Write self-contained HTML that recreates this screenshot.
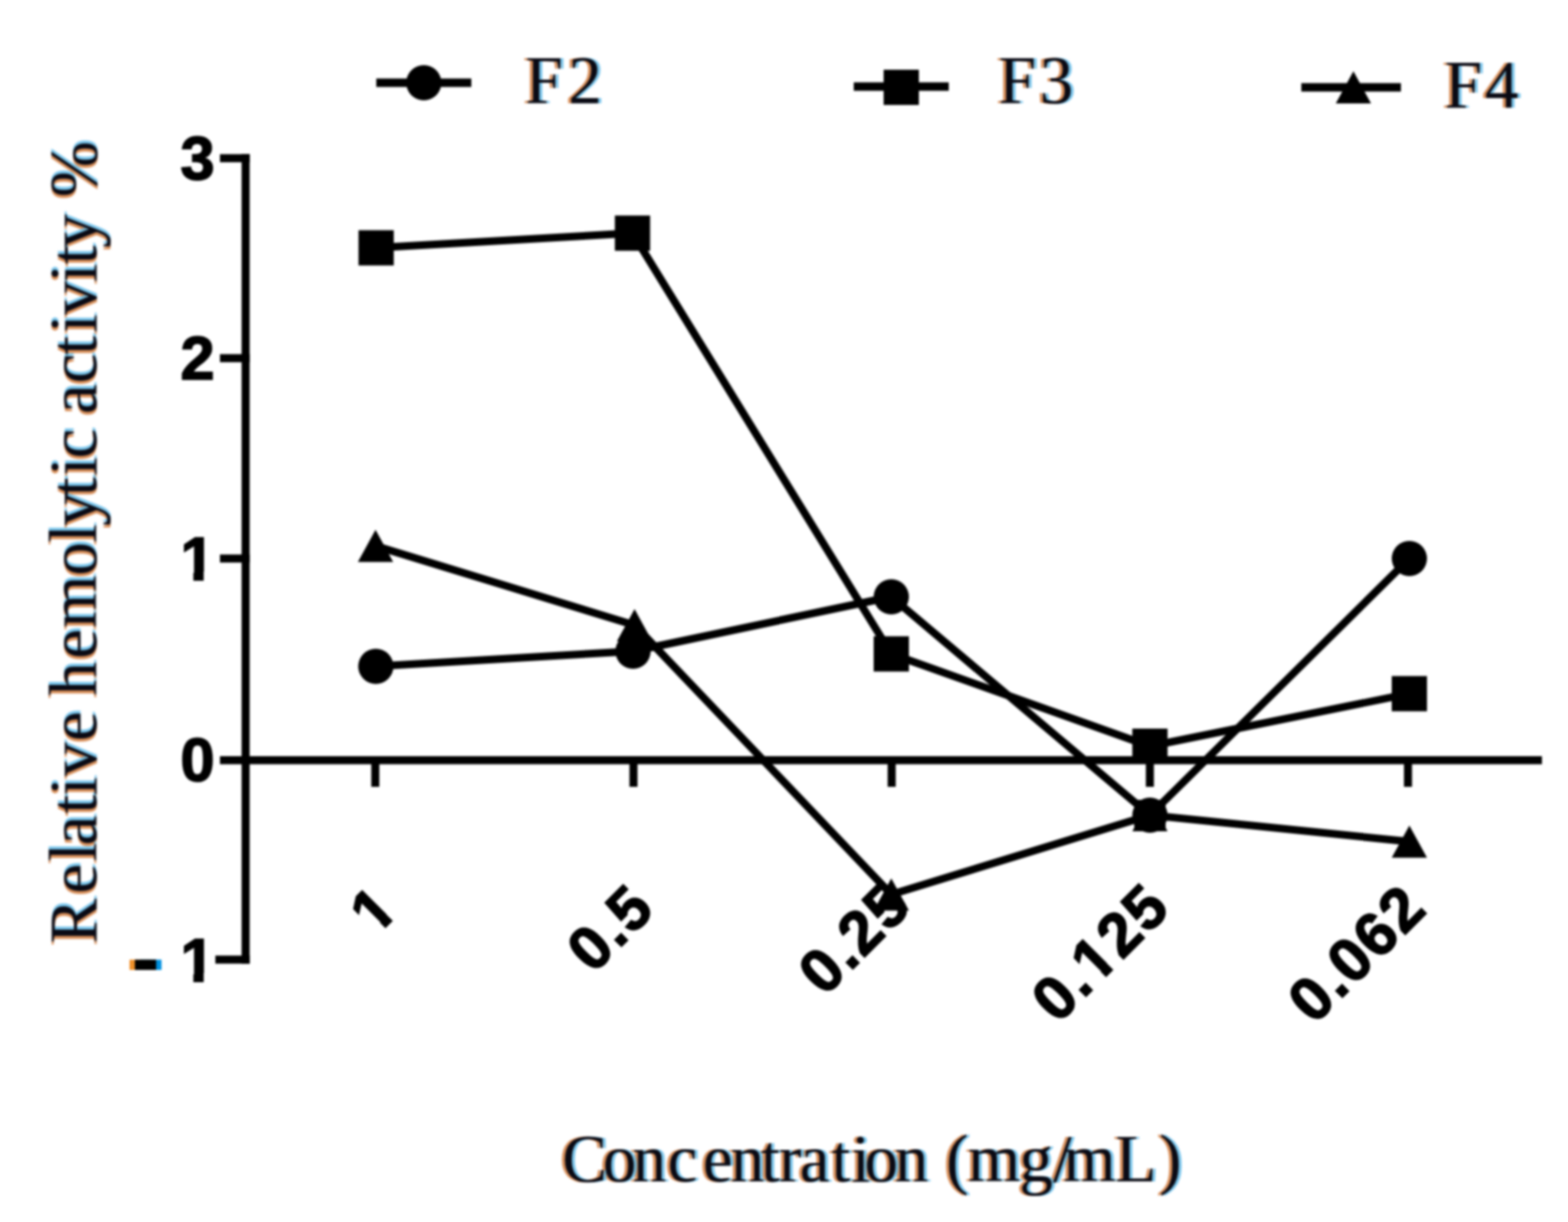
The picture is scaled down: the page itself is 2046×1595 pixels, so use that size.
<!DOCTYPE html>
<html>
<head>
<meta charset="utf-8">
<style>
html,body{margin:0;padding:0;background:#fff;}
body{width:2046px;height:1595px;overflow:hidden;position:relative;}
svg{position:absolute;left:0;top:0;filter:blur(1.8px);}
.tk{font-family:"Liberation Sans",Arial,sans-serif;font-weight:bold;font-size:78px;fill:#000;}
.tt{font-family:"Liberation Serif","Times New Roman",serif;font-size:88px;fill:#0a0a14;filter:url(#ct);}
</style>
</head>
<body>
<svg width="2046" height="1595" viewBox="0 0 2046 1595">
<defs>
<filter id="ct" x="-0.05" y="-0.1" width="1.1" height="1.2" color-interpolation-filters="sRGB">
  <feFlood flood-color="#d27c3c" flood-opacity="0.85" result="o"/>
  <feOffset in="SourceAlpha" dx="-4" dy="0" result="la"/>
  <feComposite in="o" in2="la" operator="in" result="lo"/>
  <feFlood flood-color="#4fb2e6" flood-opacity="0.75" result="b"/>
  <feOffset in="SourceAlpha" dx="4" dy="0" result="ra"/>
  <feComposite in="b" in2="ra" operator="in" result="rb"/>
  <feMerge><feMergeNode in="lo"/><feMergeNode in="rb"/><feMergeNode in="SourceGraphic"/></feMerge>
</filter>
<filter id="ct2" x="-0.5" y="-0.5" width="2" height="2" color-interpolation-filters="sRGB">
  <feFlood flood-color="#f0902a" result="o"/>
  <feOffset in="SourceAlpha" dx="-6.8" dy="0" result="la"/>
  <feComposite in="o" in2="la" operator="in" result="lo"/>
  <feFlood flood-color="#0090e0" result="b"/>
  <feOffset in="SourceAlpha" dx="6.8" dy="0" result="ra"/>
  <feComposite in="b" in2="ra" operator="in" result="rb"/>
  <feMerge><feMergeNode in="lo"/><feMergeNode in="rb"/><feMergeNode in="SourceGraphic"/></feMerge>
</filter>
</defs>
<!-- legend -->
<g stroke="#000" stroke-width="11" fill="#000">
  <line x1="491" y1="108" x2="615" y2="108"/>
  <line x1="1114" y1="113" x2="1238" y2="113"/>
  <line x1="1698" y1="114" x2="1828" y2="114"/>
</g>
<circle cx="553" cy="108" r="23" fill="#000"/>
<rect x="1153" y="91" width="46" height="46" fill="#000"/>
<polygon points="1766,93 1743,135 1789,135" fill="#000"/>
<text class="tt" x="685.5 741.5" y="134">F2</text>
<text class="tt" x="1303 1356.5" y="134">F3</text>
<text class="tt" x="1885 1937.5" y="140">F4</text>

<!-- axes -->
<g stroke="#000" stroke-width="10.5" fill="none" stroke-linecap="butt">
  <line x1="320.5" y1="201" x2="320.5" y2="1258"/>
  <line x1="287" y1="992.3" x2="2012" y2="992.3"/>
  <line x1="287" y1="206.5" x2="326" y2="206.5"/>
  <line x1="287" y1="467.5" x2="326" y2="467.5"/>
  <line x1="287" y1="729" x2="326" y2="729"/>
  <line x1="281" y1="1252.5" x2="326" y2="1252.5"/>
  <line x1="489.7" y1="992" x2="489.7" y2="1027"/>
  <line x1="826.6" y1="992" x2="826.6" y2="1027"/>
  <line x1="1163.5" y1="992" x2="1163.5" y2="1027"/>
  <line x1="1500.4" y1="992" x2="1500.4" y2="1027"/>
  <line x1="1837.2" y1="992" x2="1837.2" y2="1027"/>
</g>
<!-- y tick labels -->
<g class="tk" text-anchor="end" style="font-size:80px;stroke:#000;stroke-width:2px">
  <text x="280" y="234">3</text>
  <text x="280" y="495">2</text>
  <text x="280" y="757">1</text>
  <text x="280" y="1019">0</text>
  <text x="280" y="1281">1</text>
</g>
<rect x="238.5" y="746" width="13.8" height="13" fill="#fff"/>
<rect x="265.8" y="746" width="14.5" height="13" fill="#fff"/>
<rect x="238.5" y="1270" width="13.8" height="13" fill="#fff"/>
<rect x="265.8" y="1270" width="14.5" height="13" fill="#fff"/>
<text transform="translate(176,1310) scale(1,4)" style="font-family:'Liberation Sans',Arial,sans-serif;font-size:50px;fill:#000;filter:url(#ct2)">–</text>

<!-- x tick labels, rotated -45 -->
<g class="tk" text-anchor="middle" style="font-size:80px;letter-spacing:2.5px;stroke:#000;stroke-width:2px">
  <g transform="translate(487,1186) rotate(-45)"><text dy="28.6">1</text><rect x="-20.5" y="17.6" width="13.8" height="13" fill="#fff" stroke="none"/><rect x="6.8" y="17.6" width="14.5" height="13" fill="#fff" stroke="none"/></g>
  <g transform="translate(795.5,1210) rotate(-45)"><text dy="28.6">0.5</text></g>
  <g transform="translate(1114,1223) rotate(-45)"><text dy="28.6">0.25</text></g>
  <g transform="translate(1435,1242) rotate(-45)"><text dy="28.6">0.125</text><rect x="-31.6" y="17.6" width="13.8" height="13" fill="#fff" stroke="none"/><rect x="-4.3" y="17.6" width="14.5" height="13" fill="#fff" stroke="none"/></g>
  <g transform="translate(1769.5,1243.3) rotate(-45)"><text dy="28.6">0.062</text></g>
</g>

<!-- data lines -->
<g stroke="#000" stroke-width="10" fill="none" stroke-linejoin="round">
  <polyline points="490.4,869.7 826,850 1163,779 1500.5,1064 1839,729"/>
  <polyline points="490.8,323.5 825.3,304.3 1163,853.5 1500.5,974 1839,905.4"/>
  <polyline points="490,712.5 828,816 1163,1167.5 1500.5,1064 1839,1098.5"/>
</g>
<!-- markers F2 circles -->
<g fill="#000">
  <circle cx="490.4" cy="869.7" r="23"/>
  <circle cx="826" cy="850" r="23"/>
  <circle cx="1163" cy="779" r="23"/>
  <circle cx="1500.5" cy="1064" r="23"/>
  <rect x="1480" y="1044" width="41" height="40"/>
  <circle cx="1839" cy="729" r="23"/>
</g>
<!-- F3 squares -->
<g fill="#000">
  <rect x="467.8" y="300.5" width="46" height="46"/>
  <rect x="802.3" y="281.3" width="46" height="46"/>
  <rect x="1140" y="830.5" width="46" height="46"/>
  <rect x="1477.5" y="951" width="46" height="46"/>
  <rect x="1816" y="882.4" width="46" height="46"/>
</g>
<!-- F4 triangles -->
<g fill="#000">
  <polygon points="490,691.5 467,733.5 513,733.5"/>
  <polygon points="828,795 805,837 851,837"/>
  <polygon points="1163,1146.5 1140,1188.5 1186,1188.5"/>
  <polygon points="1500.5,1043 1477.5,1085 1523.5,1085"/>
  <polygon points="1839,1077.5 1816,1119.5 1862,1119.5"/>
</g>

<!-- axis titles -->
<text class="tt" transform="translate(125.5,1232) rotate(-90)" x="0.5 65.5 107.5 128.5 170.0 193.5 219.0 264.5 303.6 324.0 372.0 412.5 480.5 523.5 545.5 584.5 611.0 633.5 672.6 691.5 731.5 769.0 797.5 821.0 863.5 887.0 908.5 952.5 974.5">Relative hemolytic activity %</text>
<text class="tt" x="733.5 786.6 825.5 871.0 917.0 953.5 993.0 1016.5 1043.5 1085.0 1111.0 1128.0 1167.5 1211.5 1234.5 1263.0 1330.0 1374.0 1387.5 1455.5 1512.5" y="1542">Concentration (mg/mL)</text>
</svg>
</body>
</html>
